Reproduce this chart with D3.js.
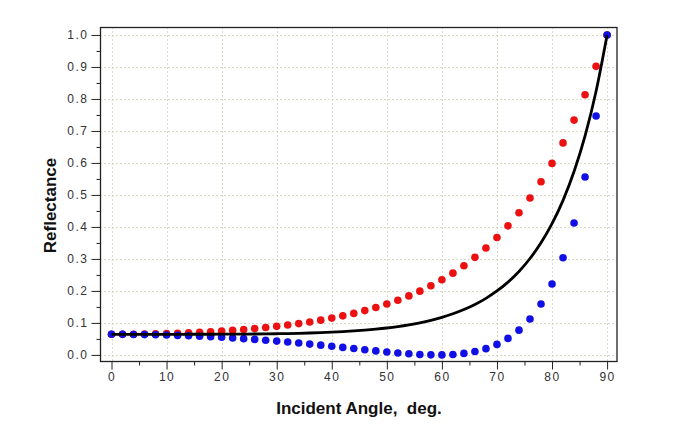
<!DOCTYPE html>
<html>
<head>
<meta charset="utf-8">
<script src="https://cdn.jsdelivr.net/npm/d3@7"></script>
<style>
  html, body { margin: 0; padding: 0; background: #fff; }
  svg { display: block; }
</style>
</head>
<body>
<svg id="chart" width="682" height="434"></svg>
<script>
// Incident angle (deg)
const angles = [0,2,4,6,8,10,12,14,16,18,20,22,24,26,28,30,32,34,36,38,40,42,44,46,48,50,52,54,56,58,60,62,64,66,68,70,72,74,76,78,80,82,84,86,88,90];
// s-polarised reflectance (red dots)
const rsValues = [0.0644,0.0645,0.0648,0.0652,0.0659,0.0668,0.0678,0.0691,0.0706,0.0724,0.0744,0.0767,0.0793,0.0823,0.0856,0.0892,0.0933,0.0979,0.1030,0.1087,0.1150,0.1220,0.1298,0.1385,0.1482,0.1590,0.1710,0.1844,0.1993,0.2160,0.2347,0.2555,0.2788,0.3049,0.3341,0.3668,0.4034,0.4443,0.4902,0.5414,0.5986,0.6626,0.7339,0.8133,0.9018,1.0];
// p-polarised reflectance (blue dots)
const rpValues = [0.0644,0.0643,0.0640,0.0635,0.0629,0.0620,0.0610,0.0598,0.0584,0.0568,0.0550,0.0530,0.0508,0.0484,0.0458,0.0431,0.0402,0.0371,0.0338,0.0305,0.0270,0.0234,0.0198,0.0162,0.0126,0.0093,0.0062,0.0036,0.0015,0.0002,0.0001,0.0014,0.0047,0.0105,0.0195,0.0328,0.0516,0.0774,0.1124,0.1592,0.2214,0.3037,0.4124,0.5561,0.7466,1.0];
// unpolarised (average) reflectance (black line)
const ravgValues = [0.0644,0.0644,0.0644,0.0644,0.0644,0.0644,0.0644,0.0645,0.0645,0.0646,0.0647,0.0649,0.0651,0.0653,0.0657,0.0662,0.0668,0.0675,0.0684,0.0696,0.0710,0.0727,0.0748,0.0773,0.0804,0.0841,0.0886,0.0940,0.1004,0.1081,0.1174,0.1285,0.1418,0.1577,0.1768,0.1998,0.2275,0.2609,0.3013,0.3503,0.4100,0.4831,0.5731,0.6847,0.8242,1.0];

const xMajorTicks = [0,10,20,30,40,50,60,70,80,90];
const xMinorTicks = [5,15,25,35,45,55,65,75,85];
const yMajorTicks = [0,0.1,0.2,0.3,0.4,0.5,0.6,0.7,0.8,0.9,1.0];
const yMinorTicks = [0.05,0.15,0.25,0.35,0.45,0.55,0.65,0.75,0.85,0.95];

const xTitle = "Incident Angle,\u00a0\u00a0deg.";
const yTitle = "Reflectance";

const svg = d3.select("#chart");
const L = 100.5, R = 617, T = 27.5, B = 361.5;

const x = d3.scaleLinear().domain([-2, 91.8]).range([L, R]);
const y = d3.scaleLinear().domain([-0.0206, 1.0233]).range([B, T]);

// grid
const grid = svg.append("g").attr("stroke", "#b8b890").attr("stroke-width", 1).attr("stroke-dasharray", "1,3");
grid.selectAll("line.v").data(xMajorTicks).enter().append("line")
  .attr("x1", d => Math.round(x(d)) + 0.5).attr("x2", d => Math.round(x(d)) + 0.5)
  .attr("y1", T).attr("y2", B);
grid.selectAll("line.h").data(yMajorTicks).enter().append("line")
  .attr("y1", d => Math.round(y(d)) + 0.5).attr("y2", d => Math.round(y(d)) + 0.5)
  .attr("x1", L).attr("x2", R);

// axes
const fmtY = d3.format(".1f");
const xAxis = d3.axisBottom(x).tickValues(xMajorTicks).tickSize(8).tickSizeOuter(0).tickPadding(3).tickFormat(d3.format("d"));
const xAxisMinor = d3.axisBottom(x).tickValues(xMinorTicks).tickSize(4).tickSizeOuter(0).tickFormat("");
const yAxis = d3.axisLeft(y).tickValues(yMajorTicks).tickSize(9).tickSizeOuter(0).tickPadding(3).tickFormat(fmtY);
const yAxisMinor = d3.axisLeft(y).tickValues(yMinorTicks).tickSize(4).tickSizeOuter(0).tickFormat("");

function styleAxis(g) {
  g.select(".domain").remove();
  g.selectAll("line").attr("stroke", "#222").attr("stroke-width", 1);
  g.selectAll("text").attr("fill", "#333").attr("font-family", "Arial, 'Liberation Sans', sans-serif")
    .attr("font-size", 12).attr("letter-spacing", "1.5px");
}
svg.append("g").attr("transform", `translate(0,${B})`).call(xAxis).call(styleAxis);
svg.append("g").attr("transform", `translate(0,${B})`).call(xAxisMinor).call(styleAxis);
svg.append("g").attr("transform", `translate(${L},0)`).call(yAxis).call(styleAxis);
svg.append("g").attr("transform", `translate(${L},0)`).call(yAxisMinor).call(styleAxis);

// frame
svg.append("rect").attr("x", L).attr("y", T).attr("width", R - L).attr("height", B - T)
  .attr("fill", "none").attr("stroke", "#222").attr("stroke-width", 1.3);

// red dots (Rs)
svg.append("g").selectAll("circle").data(angles).enter().append("circle")
  .attr("cx", (d) => x(d)).attr("cy", (d, i) => y(rsValues[i])).attr("r", 3.8).attr("fill", "#ec1010");
// blue dots (Rp)
svg.append("g").selectAll("circle").data(angles).enter().append("circle")
  .attr("cx", (d) => x(d)).attr("cy", (d, i) => y(rpValues[i])).attr("r", 3.8).attr("fill", "#1010e6");
// black line (average)
const line = d3.line().x((d) => x(d)).y((d, i) => y(ravgValues[i])).curve(d3.curveMonotoneX);
svg.append("path").datum(angles).attr("d", line).attr("fill", "none").attr("stroke", "#000").attr("stroke-width", 2.8);

// titles
svg.append("text").attr("x", 359).attr("y", 414).attr("text-anchor", "middle")
  .attr("font-family", "Arial, 'Liberation Sans', sans-serif").attr("font-weight", "bold").attr("font-size", 17)
  .attr("fill", "#111").text(xTitle);
svg.append("text").attr("transform", "translate(56,205.5) rotate(-90)").attr("text-anchor", "middle")
  .attr("font-family", "Arial, 'Liberation Sans', sans-serif").attr("font-weight", "bold").attr("font-size", 17)
  .attr("fill", "#111").text(yTitle);
</script>
</body>
</html>
